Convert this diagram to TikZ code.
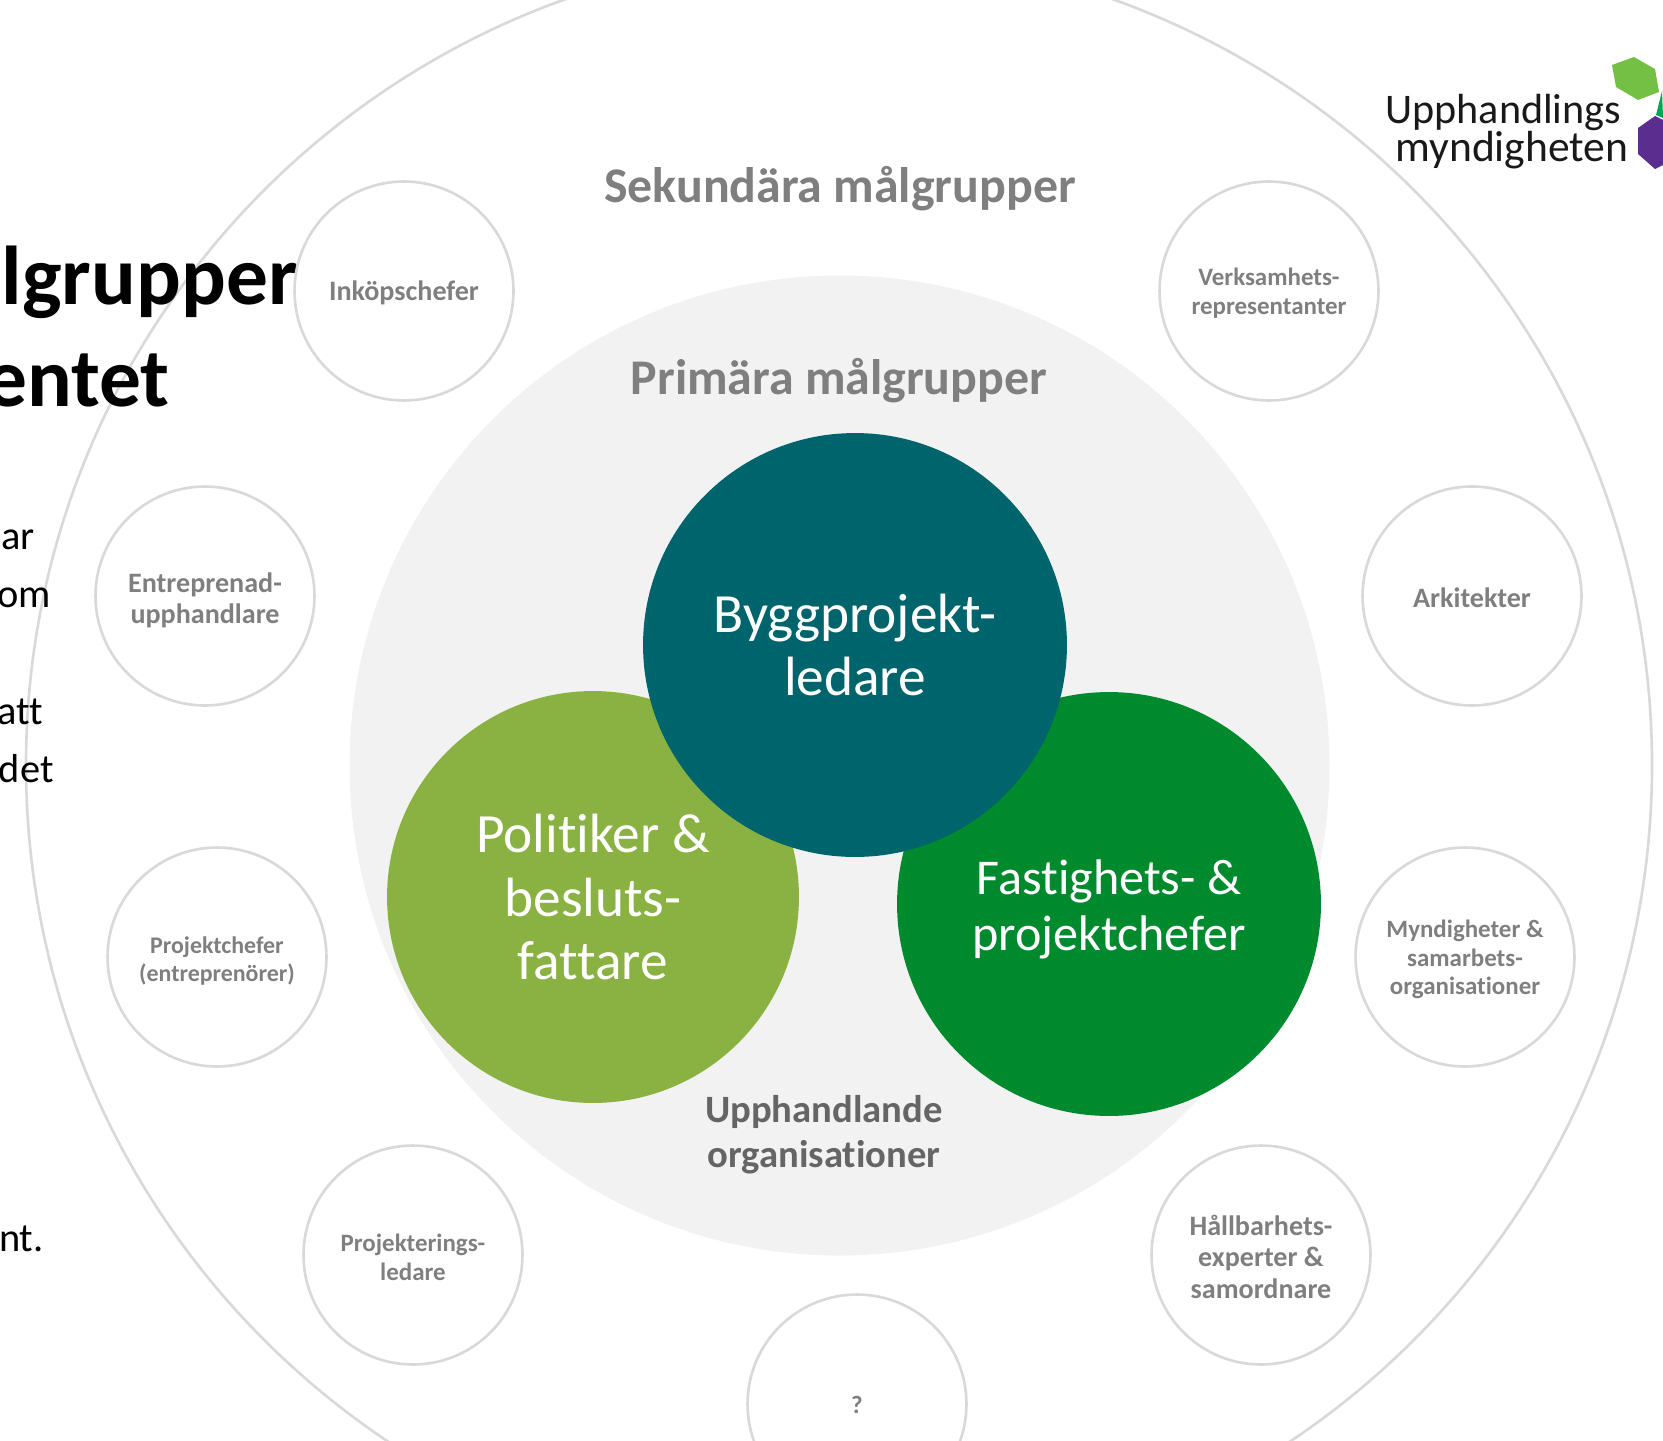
\documentclass[tikz,border=0pt]{standalone}
\usepackage{fontspec}
\setmainfont{Carlito}[Ligatures=CommonOff]
\definecolor{ringgray}{HTML}{D9D9D9}
\definecolor{fillgray}{HTML}{F2F2F2}
\definecolor{textgray}{HTML}{7F7F7F}
\definecolor{byggcol}{HTML}{00646C}
\definecolor{politcol}{HTML}{8AB243}
\definecolor{fastcol}{HTML}{008A2E}
\definecolor{logolight}{HTML}{74C044}
\definecolor{logomid}{HTML}{00A651}
\definecolor{logopurple}{HTML}{5B2D8E}
\newcommand{\low}[1]{\rule{0pt}{#1}}
\begin{document}
\begin{tikzpicture}[x=0.02cm,y=-0.02cm,
  ring/.style={draw=ringgray,line width=1.5pt},
  small/.style={circle,draw=ringgray,line width=1.5pt,minimum size=4.38cm,inner sep=0pt,
    align=center,text=textgray,font=\fontsize{14.2}{16.8}\selectfont\bfseries},
  smallbig/.style={small,font=\fontsize{16}{18}\selectfont\bfseries},
  big/.style={circle,inner sep=0pt,align=center,text=white,font=\fontsize{31.5}{36}\selectfont},
  head/.style={text=textgray,anchor=center,font=\fontsize{28.4}{32}\selectfont\bfseries},
  titlesty/.style={anchor=base east,inner sep=0pt,font=\fontsize{47.5}{50}\selectfont\bfseries},
  bodysty/.style={anchor=base east,inner sep=0pt,font=\fontsize{23}{26}\selectfont},
  logosty/.style={anchor=base west,inner sep=0pt,text=black!90}]
  \useasboundingbox (0,0) rectangle (1663,1440);
  \clip (0,0) rectangle (1663,1440);

  \draw[ring] (839,765) circle (813);
  \fill[fillgray] (839.5,765.5) circle (490);

  \node[titlesty] (titleone) at (298,304) {lgrupper};
  \node[titlesty] (titletwo) at (170,406) {entet};
  \node[bodysty] (bodyone) at (35,549) {ar};
  \node[bodysty] (bodytwo) at (51,607) {om};
  \node[bodysty] (bodythree) at (43,724) {att};
  \node[bodysty] (bodyfour) at (54,782) {det};
  \node[bodysty] (bodyfive) at (44,1251) {nt.};

  \node[smallbig] (inkop) at (404,291) {\low{0.85em}Inköpschefer};
  \node[small] (verks) at (1269,291) {\low{0.86em}Verksamhets-\\representanter};
  \node[smallbig] (entre) at (205,596) {\low{1em}Entreprenad-\\upphandlare};
  \node[smallbig] (arki) at (1472,596) {\low{0.8em}Arkitekter};
  \node[small,font=\fontsize{13.6}{16}\selectfont\bfseries] (projch) at (217,957) {\low{1em}Projektchefer\\(entreprenörer)};
  \node[small,font=\fontsize{14.2}{16.3}\selectfont\bfseries] (myndig) at (1465,957) {\low{0.9em}Myndigheter \&\\samarbets-\\organisationer};
  \node[small] (projek) at (413,1255) {\low{0.9em}Projekterings-\\ledare};
  \node[smallbig] (hallb) at (1261,1255) {\low{0.85em}Hållbarhets-\\experter \&\\samordnare};
  \node[small] (okand) at (857,1404) {\low{0.8em}?};

  \node[head] (sekund) at (840,189) {Sekundära målgrupper};
  \node[head] (primar) at (839,381) {Primära målgrupper};

  \node[big,fill=politcol,minimum size=8.24cm] (polit) at (593,897) {Politiker \&\\besluts-\\fattare};
  \node[big,fill=fastcol,minimum size=8.48cm,font=\fontsize{28.5}{32}\selectfont] (fast) at (1109,904) {\low{0.9em}Fastighets- \&\\projektchefer};
  \node[big,fill=byggcol,minimum size=8.48cm] (bygg) at (855,645) {Byggprojekt-\\ledare};

  \node[text=textgray!80!black,align=center,font=\fontsize{22}{25.8}\selectfont\bfseries] (upph) at (824,1135) {Upphandlande\\organisationer};

  % logo
  \fill[logomid] (1662,91) -- (1656,115) -- (1663,118) -- cycle;
  \fill[logolight] (1612,65) -- (1634,57) -- (1655,69) -- (1659,92) -- (1638,100) -- (1616,87) -- cycle;
  \fill[logopurple] (1655,116) -- (1638,128) -- (1638,154) -- (1655,169) -- (1663,165) -- (1663,120) -- cycle;
  \node[logosty,font=\fontsize{24}{24}\selectfont] (logoone) at (1385,123) {Upphandlings};
  \node[logosty,font=\fontsize{24.8}{24}\selectfont] (logotwo) at (1395,161) {myndigheten};
\end{tikzpicture}
\end{document}
